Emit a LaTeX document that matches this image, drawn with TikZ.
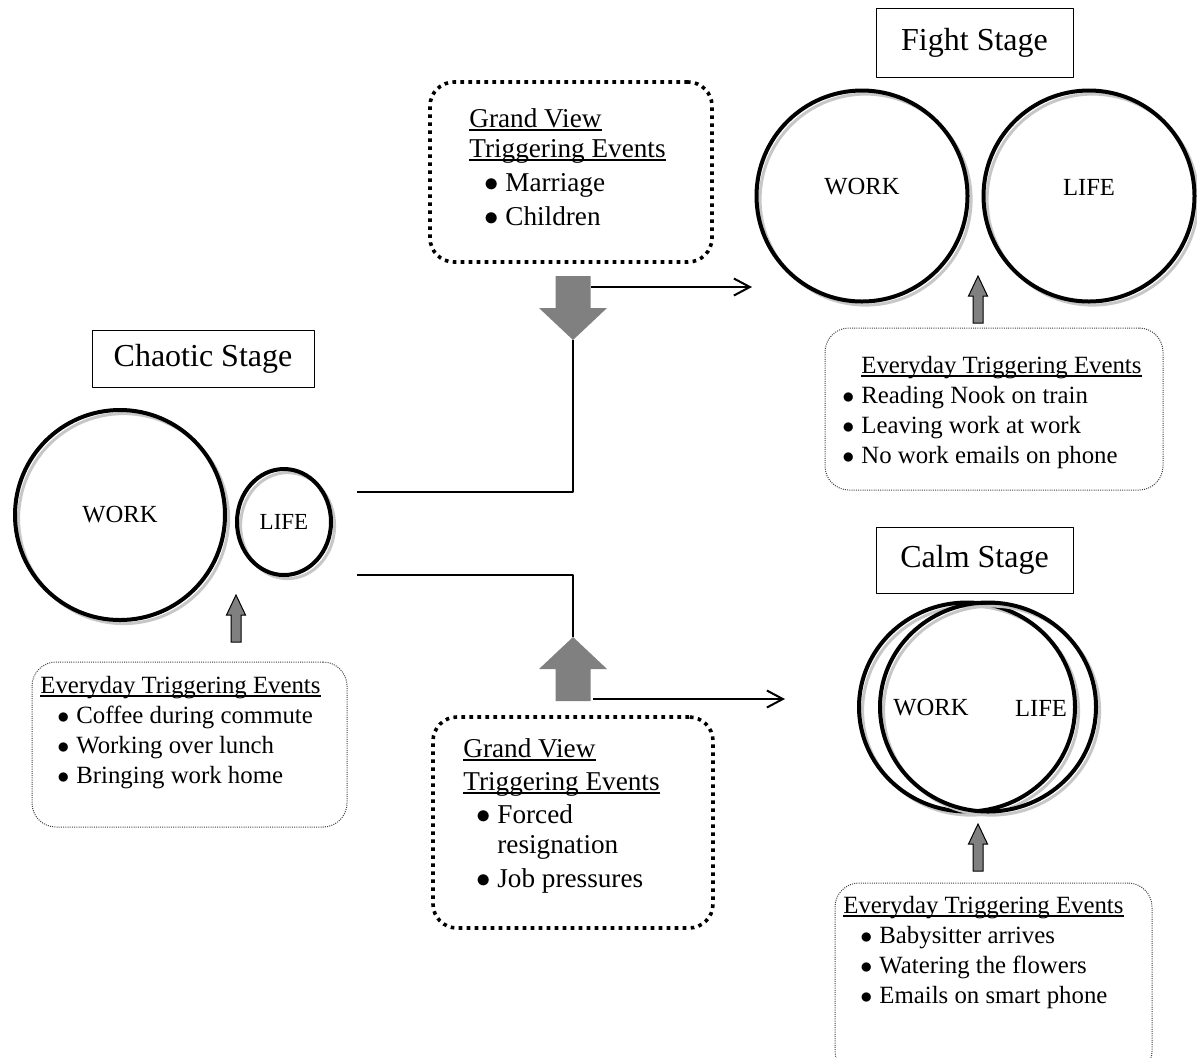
\documentclass[tikz,border=0pt]{standalone}
\usepackage{fontspec}
\setmainfont{Liberation Serif}
\usetikzlibrary{shapes.geometric,arrows.meta}
\begin{document}
\begin{tikzpicture}[x=0.5pt,y=-0.5pt,line join=round,>={Straight Barb[length=8pt,width=8.5pt]},
	stagebox/.style={draw,line width=0.5pt,inner sep=0,font=\fontsize{16}{19}\selectfont},
	ring/.style={draw,line width=2pt,inner sep=0,preaction={draw=black!22,line width=1.5pt,transform canvas={shift={(1.8pt,-1.8pt)}}}},
	grandbox/.style={draw,rounded corners=12pt,line width=1.8pt,dash pattern=on 1.8pt off 2.2pt},
	evbox/.style={draw=black!75,rounded corners=12pt,line width=0.5pt,dash pattern=on 0.5pt off 0.6pt},
	evtxt/.style={anchor=base west,inner sep=0,font=\fontsize{12.4}{15}\selectfont},
	gvtxt/.style={anchor=base west,inner sep=0,font=\fontsize{13.6}{16}\selectfont},
	lbl/.style={inner sep=0,font=\fontsize{12.3}{15}\selectfont},
	conn/.style={line width=1pt},
	smallarr/.pic={\filldraw[fill=black!50,line width=0.5pt,line join=miter] (-5,0) -- (-5,-27) -- (-9.5,-27) -- (0,-47) -- (9.5,-27) -- (5,-27) -- (5,0) -- cycle;},
	bigarr/.pic={\fill[black!50] (0,0) -- (-34,-32) -- (-17.5,-32) -- (-17.5,-64) -- (17.5,-64) -- (17.5,-32) -- (34,-32) -- cycle;}]
	\useasboundingbox (0,0) rectangle (1197,1057);
	\def\ul#1{\draw[line width=0.6pt] ([yshift=-1.5pt]#1.base west) -- ([yshift=-1.5pt]#1.base east);}
	% chaotic stage
	\node[stagebox,minimum width=111pt,minimum height=28.5pt] (chs) at (203,358.5) {Chaotic Stage\hspace{2pt}};
	\node[ring,circle,minimum size=105pt,font=\fontsize{12.3}{15}\selectfont] (chw) at (120,515) {WORK};
	\node[ring,ellipse,minimum width=47pt,minimum height=53pt,font=\fontsize{11.5}{14}\selectfont] (chl) at (284,522) {LIFE};
	\pic at (236,642) {smallarr};
	\node[evbox,minimum width=157.5pt,minimum height=82.5pt] (chb) at (189.5,744.5) {};
	\node[evtxt] (chh) at (40,693) {Everyday Triggering Events}; \ul{chh}
	\foreach \t [count=\i] in {Coffee during commute,Working over lunch,Bringing work home}
		\node[evtxt] (ch\i) at (76,693+30*\i) {\llap{$\bullet$\hspace{3.5pt}}\t};
	% grand view, top
	\node[grandbox,minimum width=141pt,minimum height=90pt] (gtb) at (571,172) {};
	\node[gvtxt] (gt1) at (469,127) {Grand View}; \ul{gt1}
	\node[gvtxt] (gt2) at (469,157) {Triggering Events}; \ul{gt2}
	\foreach \t [count=\i] in {Marriage,Children}
		\node[gvtxt] (gti\i) at (505,157+34*\i) {\llap{$\bullet$\hspace{3.5pt}}\t};
	\pic at (573,340) {bigarr};
	\coordinate (dtip) at (573,340);
	\coordinate (dsh) at (591,287);
	\coordinate (fend) at (752,287);
	% grand view, bottom
	\node[grandbox,minimum width=140pt,minimum height=105.5pt] (gbb) at (573,822.5) {};
	\node[gvtxt] (gb1) at (463,757) {Grand View}; \ul{gb1}
	\node[gvtxt] (gb2) at (463,790) {Triggering Events}; \ul{gb2}
	\node[gvtxt] (gbi1) at (497,823) {\llap{$\bullet$\hspace{3.5pt}}Forced};
	\node[gvtxt] (gbi2) at (497,853) {resignation};
	\node[gvtxt] (gbi3) at (497,887) {\llap{$\bullet$\hspace{3.5pt}}Job pressures};
	\pic[rotate=180] at (573,637) {bigarr};
	\coordinate (utip) at (573,637);
	\coordinate (ush) at (593,699);
	\coordinate (kend) at (785,699);
	% connectors
	\coordinate (cu) at (357,492);
	\coordinate (cd) at (357,575);
	\draw[conn] (cu) -| (dtip);
	\draw[conn] (cd) -| (utip);
	\draw[conn,->] (dsh) -- (fend);
	\draw[conn,->] (ush) -- (kend);
	% fight stage
	\node[stagebox,minimum width=98.5pt,minimum height=34.5pt] (fs) at (974.5,42.5) {Fight Stage\hspace{4pt}};
	\node[ring,circle,minimum size=105.5pt] (fw) at (862,196) {};
	\node[ring,circle,minimum size=105.5pt] (fl) at (1089,196) {};
	\node[lbl] (fwt) at (862,187) {WORK};
	\node[lbl] (flt) at (1089,187) {LIFE};
	\pic at (978,323) {smallarr};
	\node[evbox,minimum width=169pt,minimum height=81pt] (fb) at (994,409) {};
	\node[evtxt] (fh) at (861,373) {Everyday Triggering Events}; \ul{fh}
	\foreach \t [count=\i] in {Reading Nook on train,Leaving work at work,No work emails on phone}
		\node[evtxt] (f\i) at (861,373+30*\i) {\llap{$\bullet$\hspace{3.5pt}}\t};
	% calm stage
	\node[stagebox,minimum width=98.5pt,minimum height=33pt] (ks) at (974.5,560) {Calm Stage\hspace{4pt}};
	\node[ring,ellipse,minimum width=108pt,minimum height=104.5pt] (kw) at (967,707) {};
	\node[ring,ellipse,minimum width=108pt,minimum height=104.5pt] (kl) at (988,707) {};
	\node[lbl] (kwt) at (931,708) {WORK};
	\node[lbl] (klt) at (1041,708) {LIFE};
	\pic at (978,871) {smallarr};
	\node[evbox,minimum width=158.5pt,minimum height=96pt] (kb) at (993.5,979) {};
	\node[evtxt] (kh) at (843,913) {Everyday Triggering Events}; \ul{kh}
	\foreach \t [count=\i] in {Babysitter arrives,Watering the flowers,Emails on smart phone}
		\node[evtxt] (k\i) at (879,913+30*\i) {\llap{$\bullet$\hspace{3.5pt}}\t};
\end{tikzpicture}
\end{document}
